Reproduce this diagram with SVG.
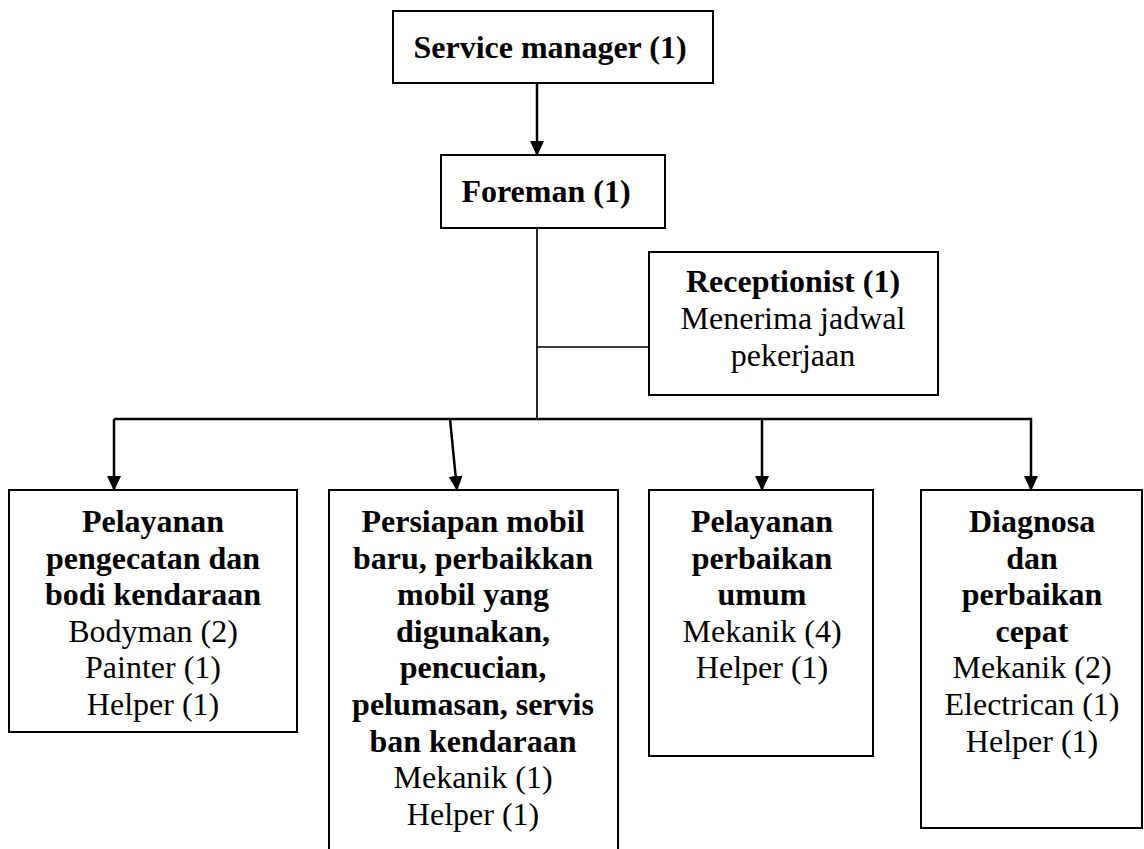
<svg xmlns="http://www.w3.org/2000/svg" width="1144" height="849" viewBox="0 0 1144 849">
<style>
.box{fill:#fff;stroke:#000;stroke-width:2}
.t{font-family:"Liberation Serif","Times New Roman",serif;font-size:32px;fill:#000;text-anchor:middle}
.b{font-weight:bold}
.c{fill:none;stroke:#000;stroke-width:2.5}
.thin{fill:none;stroke:#000;stroke-width:1.7}
</style>
<defs>
<marker id="ah" markerUnits="userSpaceOnUse" markerWidth="15" markerHeight="15" viewBox="0 0 15 14" refX="14" refY="7" orient="auto">
<path d="M0,0 L15,7 L0,14 Z" fill="#000"/>
</marker>
</defs>
<rect width="1144" height="849" fill="#fff"/>
<g id="connectors">
<line class="c" x1="537" y1="83" x2="537" y2="155" marker-end="url(#ah)"/>
<line class="thin" x1="537" y1="228" x2="537" y2="419"/>
<line class="thin" x1="537" y1="347" x2="649" y2="347"/>
<polyline class="c" points="114,419 1031,419 1031,490" marker-end="url(#ah)"/>
<line class="c" x1="114" y1="419" x2="114" y2="490" marker-end="url(#ah)"/>
<line class="c" x1="450" y1="419" x2="457" y2="490" marker-end="url(#ah)"/>
<line class="c" x1="762" y1="419" x2="762" y2="490" marker-end="url(#ah)"/>
</g>
<g id="service-manager">
<rect class="box" x="393" y="11" width="320" height="72"/>
<text class="t b" x="550" y="58">Service manager (1)</text>
</g>
<g id="foreman">
<rect class="box" x="441" y="155" width="224" height="73"/>
<text class="t b" x="546" y="202">Foreman (1)</text>
</g>
<g id="receptionist">
<rect class="box" x="649" y="252" width="289" height="143"/>
<text class="t b" x="793" y="292">Receptionist (1)</text>
<text class="t" x="793" y="329">Menerima jadwal</text>
<text class="t" x="793" y="366">pekerjaan</text>
</g>
<g id="pengecatan">
<rect class="box" x="9" y="490" width="288" height="242"/>
<text class="t" x="153" y="532"><tspan class="b" x="153">Pelayanan</tspan><tspan class="b" x="153" dy="36.6">pengecatan dan</tspan><tspan class="b" x="153" dy="36.6">bodi kendaraan</tspan><tspan x="153" dy="36.6">Bodyman (2)</tspan><tspan x="153" dy="36.6">Painter (1)</tspan><tspan x="153" dy="36.6">Helper (1)</tspan></text>
</g>
<g id="persiapan">
<path class="box" d="M329,851 L329,490 L618,490 L618,851"/>
<text class="t" x="473" y="532"><tspan class="b" x="473">Persiapan mobil</tspan><tspan class="b" x="473" dy="36.6">baru, perbaikkan</tspan><tspan class="b" x="473" dy="36.6">mobil yang</tspan><tspan class="b" x="473" dy="36.6">digunakan,</tspan><tspan class="b" x="473" dy="36.6">pencucian,</tspan><tspan class="b" x="473" dy="36.6">pelumasan, servis</tspan><tspan class="b" x="473" dy="36.6">ban kendaraan</tspan><tspan x="473" dy="36.6">Mekanik (1)</tspan><tspan x="473" dy="36.6">Helper (1)</tspan></text>
</g>
<g id="perbaikan-umum">
<rect class="box" x="649" y="490" width="224" height="266"/>
<text class="t" x="762" y="532"><tspan class="b" x="762">Pelayanan</tspan><tspan class="b" x="762" dy="36.6">perbaikan</tspan><tspan class="b" x="762" dy="36.6">umum</tspan><tspan x="762" dy="36.6">Mekanik (4)</tspan><tspan x="762" dy="36.6">Helper (1)</tspan></text>
</g>
<g id="diagnosa">
<rect class="box" x="921" y="490" width="221" height="338"/>
<text class="t" x="1032" y="532"><tspan class="b" x="1032">Diagnosa</tspan><tspan class="b" x="1032" dy="36.6">dan</tspan><tspan class="b" x="1032" dy="36.6">perbaikan</tspan><tspan class="b" x="1032" dy="36.6">cepat</tspan><tspan x="1032" dy="36.6">Mekanik (2)</tspan><tspan x="1032" dy="36.6">Electrican (1)</tspan><tspan x="1032" dy="36.6">Helper (1)</tspan></text>
</g>
</svg>
